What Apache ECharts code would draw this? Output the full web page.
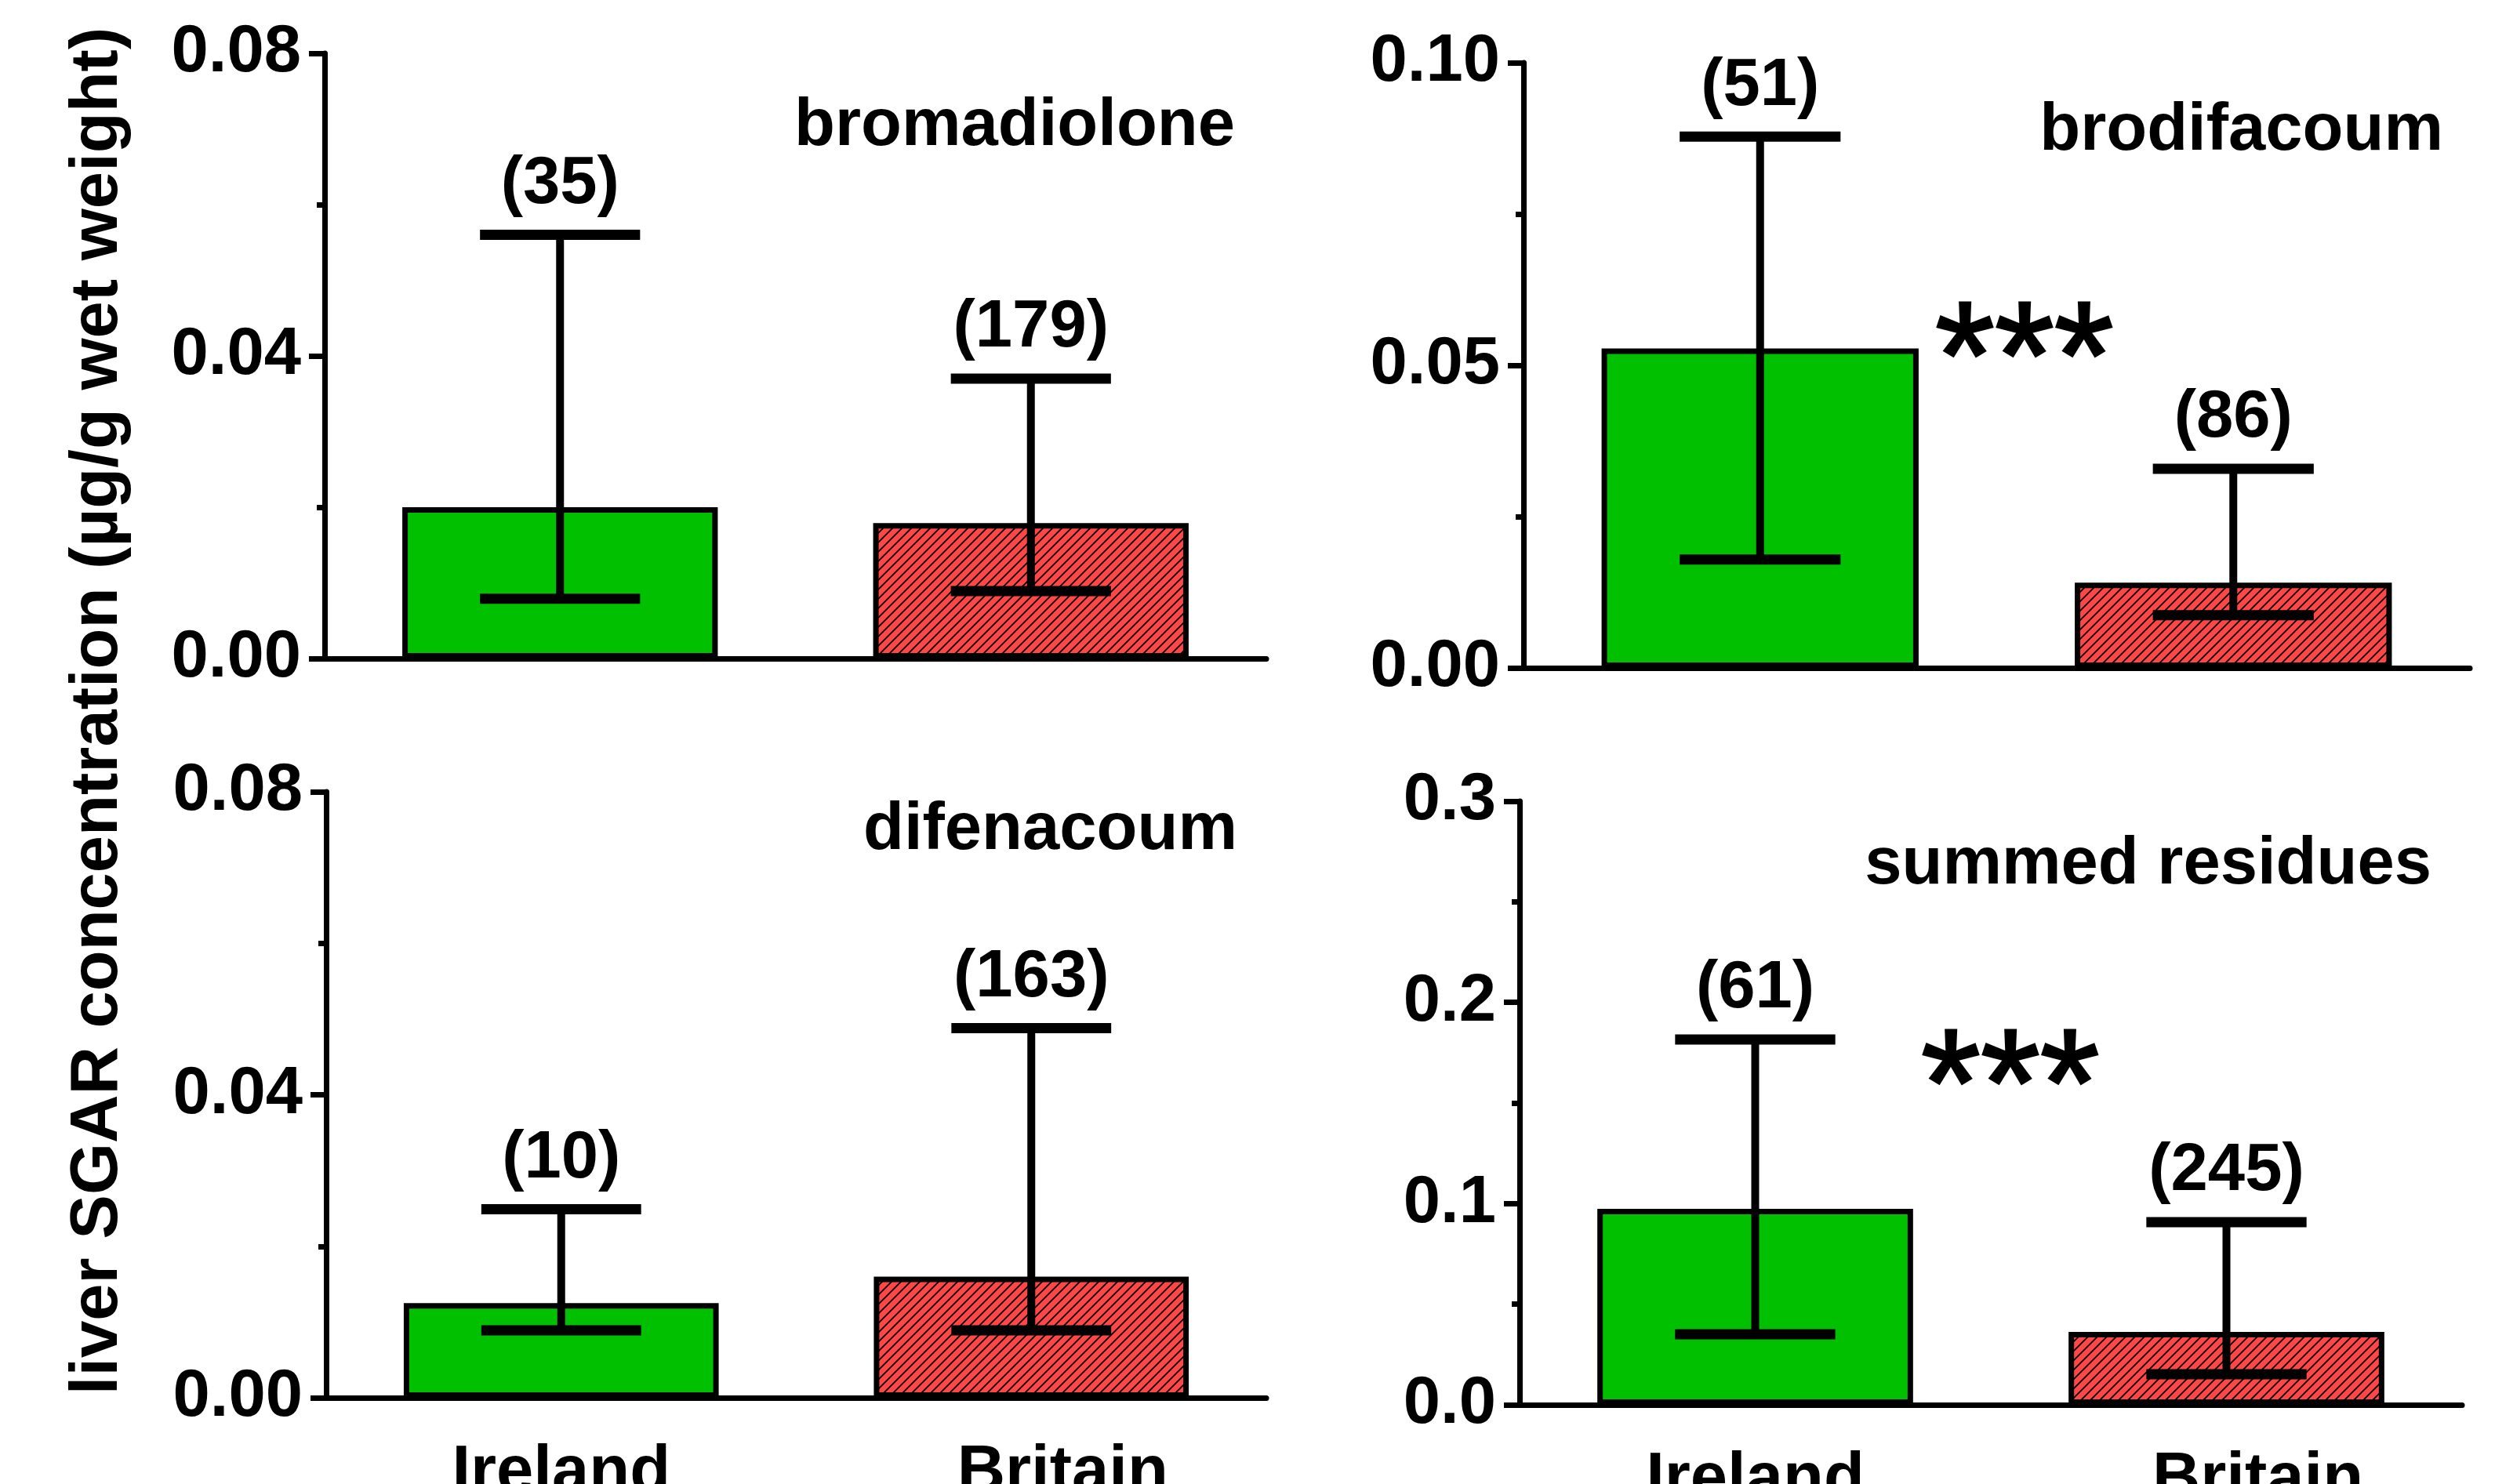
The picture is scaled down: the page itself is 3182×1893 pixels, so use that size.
<!DOCTYPE html>
<html>
<head>
<meta charset="utf-8">
<script src="https://cdn.jsdelivr.net/npm/echarts@6/dist/echarts.min.js"></script>
<style>
html,body{margin:0;padding:0;background:#fff;}
#chart{width:3182px;height:1893px;}
</style>
</head>
<body>
<div id="chart"></div>
<script>
// ---------- data ----------
const categories = ['Ireland', 'Britain'];

const bromMean = [0.0200, 0.0179];
const bromLow  = [0.0079, 0.0089];
const bromHigh = [0.0560, 0.0370];
const bromN    = [35, 179];

const brodMean = [0.0528, 0.0141];
const brodLow  = [0.0179, 0.0087];
const brodHigh = [0.0878, 0.0329];
const brodN    = [51, 86];

const difeMean = [0.0125, 0.0160];
const difeLow  = [0.0089, 0.0089];
const difeHigh = [0.0249, 0.0488];
const difeN    = [10, 163];

const sumMean = [0.0974, 0.0362];
const sumLow  = [0.0351, 0.0152];
const sumHigh = [0.1816, 0.0908];
const sumN    = [61, 245];

const panelTitles = ['bromadiolone', 'brodifacoum', 'difenacoum', 'summed residues'];
const yMax      = [0.08, 0.10, 0.08, 0.3];
const yInterval = [0.04, 0.05, 0.04, 0.1];
const yDecimals = [2, 2, 2, 1];
const yTitle = 'liver SGAR concentration (\u00b5g/g wet weight)';
const signif = '***';

// ---------- styles ----------
const FONT = '"Liberation Sans", Arial, Helvetica, sans-serif';
const FS = 85;
const GREEN = '#00C000';
const RED = '#FF4747';

function hatch() {
  const p = 12;
  const c = document.createElement('canvas');
  c.width = p; c.height = p;
  const g = c.getContext('2d');
  g.fillStyle = RED; g.fillRect(0, 0, p, p);
  g.strokeStyle = '#000'; g.lineWidth = 1.8;
  g.beginPath();
  g.moveTo(-2, p + 2); g.lineTo(p + 2, -2);
  g.moveTo(-2, 2); g.lineTo(2, -2);
  g.moveTo(p - 2, p + 2); g.lineTo(p + 2, p - 2);
  g.stroke();
  return c;
}
const hatchCanvas = hatch();

const grids = [
  {left: 414, top: 68, width: 1201, height: 772},
  {left: 1943, top: 80, width: 1207, height: 772},
  {left: 416, top: 1010, width: 1199, height: 773},
  {left: 1938, top: 1022, width: 1202, height: 770}
];

const panels = [
  {mean: bromMean, low: bromLow, high: bromHigh, n: bromN},
  {mean: brodMean, low: brodLow, high: brodHigh, n: brodN},
  {mean: difeMean, low: difeLow, high: difeHigh, n: difeN},
  {mean: sumMean, low: sumLow, high: sumHigh, n: sumN}
];

const xAxes = grids.map((g, i) => ({
  type: 'category', gridIndex: i, data: categories,
  axisLine: {show: true, lineStyle: {color: '#000', width: 7}},
  axisTick: {show: false},
  axisLabel: {
    show: i >= 2, margin: 54,
    formatter: v => v === 'Britain' ? '{b|' + v + '}' : '{a|' + v + '}',
    rich: {
      a: {fontSize: FS, fontWeight: 'bold', fontFamily: FONT, color: '#000'},
      b: {fontSize: FS, fontWeight: 'bold', fontFamily: FONT, color: '#000', padding: [0, 0, 0, 80]}
    }
  },
  splitLine: {show: false}
}));

const yAxes = grids.map((g, i) => ({
  type: 'value', gridIndex: i, min: 0, max: yMax[i], interval: yInterval[i],
  axisLine: {show: true, lineStyle: {color: '#000', width: 7}},
  axisTick: {show: true, length: 20, lineStyle: {color: '#000', width: 7}},
  minorTick: {show: true, splitNumber: 2, length: 10, lineStyle: {color: '#000', width: 7}},
  axisLabel: {
    margin: 30, fontSize: FS, fontWeight: 'bold', fontFamily: FONT, color: '#000',
    formatter: v => v.toFixed(yDecimals[i])
  },
  splitLine: {show: false}
}));

const series = [];
panels.forEach((p, i) => {
  series.push({
    type: 'bar', xAxisIndex: i, yAxisIndex: i, barWidth: '67%',
    data: p.mean.map((v, k) => ({
      value: v,
      itemStyle: {
        color: k === 0 ? GREEN : {image: hatchCanvas, repeat: 'repeat'},
        borderColor: '#000', borderWidth: 7
      }
    })),
    silent: true, animation: false
  });
  series.push({
    type: 'custom', xAxisIndex: i, yAxisIndex: i, clip: false, animation: false, silent: true,
    data: p.mean.map((v, k) => [k, p.low[k], p.high[k], p.n[k]]),
    encode: {x: 0, y: [1, 2]},
    z: 10,
    renderItem: function (params, api) {
      const idx = api.value(0);
      const lo = api.coord([idx, api.value(1)]);
      const hi = api.coord([idx, api.value(2)]);
      const half = api.size([1, 0])[0] * 0.17;
      return {
        type: 'group',
        children: [
          {type: 'line', shape: {x1: lo[0], y1: lo[1], x2: hi[0], y2: hi[1]}, style: {stroke: '#000', lineWidth: 10}},
          {type: 'line', shape: {x1: hi[0] - half, y1: hi[1], x2: hi[0] + half, y2: hi[1]}, style: {stroke: '#000', lineWidth: 13}},
          {type: 'line', shape: {x1: lo[0] - half, y1: lo[1], x2: lo[0] + half, y2: lo[1]}, style: {stroke: '#000', lineWidth: 13}},
          {type: 'text', x: hi[0], y: hi[1] - 64, style: {
            text: '(' + api.value(3) + ')', fill: '#000',
            fontSize: FS, fontWeight: 'bold', fontFamily: FONT,
            align: 'center', verticalAlign: 'middle'
          }}
        ]
      };
    }
  });
});

const titlePos = [[1575, 162], [3116, 168], [1578, 1060], [3101, 1104]];
const graphics = panelTitles.map((t, i) => ({
  type: 'text', x: titlePos[i][0], y: titlePos[i][1],
  style: {text: t, fill: '#000', fontSize: FS, fontWeight: 'bold', fontFamily: FONT, align: 'right', verticalAlign: 'middle'}
}));
graphics.push({
  type: 'text', x: 126, y: 907, rotation: Math.PI / 2,
  style: {text: yTitle, fill: '#000', fontSize: 85, fontWeight: 'bold', fontFamily: FONT, align: 'center', verticalAlign: 'middle'}
});
[[2468, 466], [2450, 1394]].forEach(pos => {
  graphics.push({
    type: 'text', x: pos[0], y: pos[1],
    style: {text: signif, fill: '#000', stroke: '#000', lineWidth: 3, fontSize: 195, fontWeight: 'normal', fontFamily: FONT, align: 'left', verticalAlign: 'middle'}
  });
});

const chart = echarts.init(document.getElementById('chart'), null, {renderer: 'canvas'});
chart.setOption({
  animation: false,
  backgroundColor: '#fff',
  grid: grids.map(g => Object.assign({containLabel: false, outerBoundsMode: 'none'}, g)),
  xAxis: xAxes,
  yAxis: yAxes,
  series: series,
  graphic: graphics
});
</script>
</body>
</html>
